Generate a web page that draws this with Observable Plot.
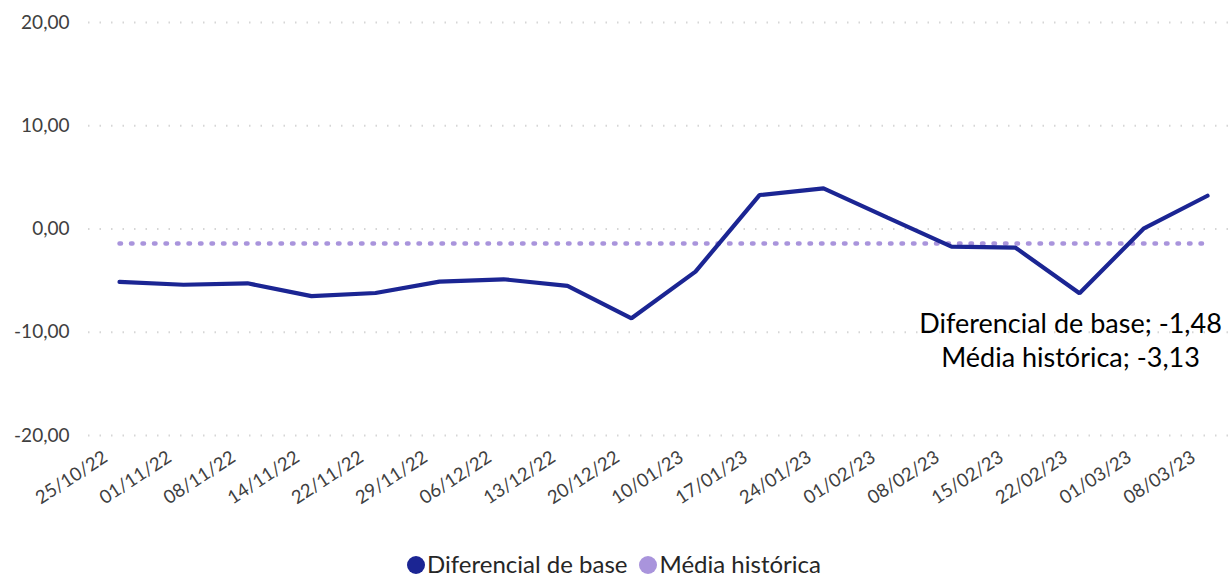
<!DOCTYPE html>
<html><head><meta charset="utf-8">
<script src="https://cdn.jsdelivr.net/npm/d3@7"></script>
<script src="https://cdn.jsdelivr.net/npm/@observablehq/plot@0.6"></script>
<style>
body{margin:0;background:#fff;font-family:Lato,"Open Sans",sans-serif;}
#wrap{width:1228px;height:577px;position:relative;overflow:hidden;}
#legend{position:absolute;left:0;width:1228px;top:551px;height:26px;text-align:center;font-size:24px;line-height:26px;color:#262626;white-space:nowrap;padding-left:6px;}
#legend span.sw{display:inline-block;width:18px;height:18px;border-radius:50%;vertical-align:-1px;margin-right:2px;}
#legend span.it{margin-right:12px;}
</style></head>
<body><div id="wrap"><div id="chart"></div><div id="legend"></div></div>
<script>
const dates = ["25/10/22","01/11/22","08/11/22","14/11/22","22/11/22","29/11/22","06/12/22","13/12/22","20/12/22","10/01/23","17/01/23","24/01/23","01/02/23","08/02/23","15/02/23","22/02/23","01/03/23","08/03/23"];
const diferencial = [-5.13,-5.4,-5.26,-6.5,-6.2,-5.1,-4.87,-5.5,-8.65,-4.13,3.29,3.94,1.1,-1.71,-1.81,-6.23,0.03,3.22];
const mediaHistorica = [-1.4,-1.4,-1.4,-1.4,-1.4,-1.4,-1.4,-1.4,-1.4,-1.4,-1.4,-1.4,-1.4,-1.4,-1.4,-1.4,-1.4,-1.4];
const yTicks = [-20,-10,0,10,20];
const seriesNames = ["Diferencial de base","Média histórica"];
const seriesColors = ["#1b2593","#a994dc"];
const annotationLines = ["Diferencial de base; -1,48","Média histórica; -3,13"];

const rowsD = dates.map((d,i)=>({date:d, value:diferencial[i]}));
const rowsM = dates.map((d,i)=>({date:d, value:mediaHistorica[i]}));
const fmt = v => d3.format(".2f")(v).replace(".", ",").replace("−","-");

const chart = Plot.plot({
  width: 1228, height: 520,
  marginLeft: 113, marginRight: 16, marginTop: 22, marginBottom: 85,
  style: {fontFamily: "Lato, 'Open Sans', sans-serif", fontSize: "19px", color: "#595959", background: "#fff"},
  x: {type: "point", domain: dates, padding: 0, label: null},
  y: {domain: [-20, 20], label: null},
  marks: [
    Plot.ruleY(yTicks, {stroke: "#d6d6d6", strokeWidth: 2, strokeDasharray: "1.5 10", insetLeft: -25, insetRight: -16}),
    Plot.axisY(yTicks, {tickSize: 0, tickPadding: 0, dx: -44, tickFormat: fmt, fill: "#404040", fontSize: 19, label: null}),
    Plot.axisX({tickSize: 0, tickRotate: -33, tickPadding: 6, textAnchor: "end", dx: -14, dy: 14, fill: "#404040", fontSize: 18.5, label: null}),
    Plot.lineY(rowsM, {x: "date", y: "value", stroke: seriesColors[1], strokeWidth: 4.5, strokeDasharray: "1.5 10", strokeLinecap: "round"}),
    Plot.lineY(rowsD, {x: "date", y: "value", stroke: seriesColors[0], strokeWidth: 4.2, strokeLinejoin: "miter"}),
    Plot.text([annotationLines.join("\n")], {frameAnchor: "right", dy: 110, dx: -142, textAnchor: "middle", fill: "#000", fontSize: 27, lineHeight: 1.25, text: d => d})
  ]
});
document.getElementById("chart").appendChild(chart);
const lg = document.getElementById("legend");
seriesNames.forEach((n,i)=>{
  const s = document.createElement("span"); s.className="sw"; s.style.background=seriesColors[i]; lg.appendChild(s);
  const t = document.createElement("span"); t.className="it"; t.textContent=n; lg.appendChild(t);
});
</script></body></html>
